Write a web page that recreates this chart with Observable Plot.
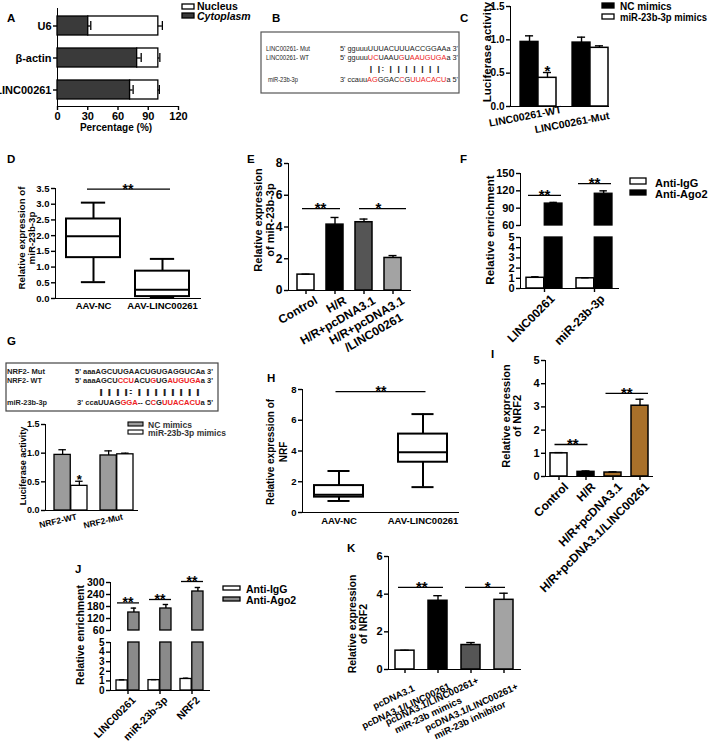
<!DOCTYPE html>
<html><head><meta charset="utf-8">
<script src="https://cdn.jsdelivr.net/npm/d3@7"></script>
<script src="https://cdn.jsdelivr.net/npm/@observablehq/plot@0.6"></script>
<style>
html,body{margin:0;padding:0;background:#fff;}
#page{position:relative;width:709px;height:743px;overflow:hidden;background:#fff;}
#page svg [aria-label*="axis"] line, #page svg [aria-label*="axis"] path{stroke-width:1.4px;}
</style>
</head><body><div id="page"></div>
<script>
// ================= DATA =================
// A
const aCats = ["U6", "β-actin", "LINC00261"];
const aCytoplasm = [30.5, 79, 72];
const aCytoplasmErr = [33, 83, 75];
const aNucleusEnd = [100, 100, 100];
const aNucleusErr = [104, 101.5, 101];
const aTicks = [0, 30, 60, 90, 120];
const aSeries = ["Nucleus", "Cytoplasm"];
// B
const bNames = ["LINC00261- Mut", "LINC00261- WT", "miR-23b-3p"];
const bMut = [["5' gguuuUUUACUUUACCGGAAa 3'", 0]];
const bWT = [["5' gguuu", 0], ["UC", 1], ["UAAU", 0], ["G", 1], ["U", 0], ["AAUGUGA", 1], ["a 3'", 0]];
const bMiR = [["3' ccauu", 0], ["AG", 1], ["GGAC", 0], ["C", 1], ["G", 0], ["UUACACU", 1], ["a 5'", 0]];
const bPairs = "| |:          |    | | | | | |";
// C
const cGroups = ["LINC00261-WT", "LINC00261-Mut"];
const cSeries = ["NC mimics", "miR-23b-3p mimics"];
const cNC = [0.97, 0.96];
const cNCErr = [1.06, 1.04];
const cMimics = [0.43, 0.88];
const cMimicsErr = [0.51, 0.91];
const cTicks = [0, 0.5, 1.0, 1.5];
const cStarGroup = ["LINC00261-WT"], cStarY = [0.55], cStarText = ["*"];
// D
const dGroups = ["AAV-NC", "AAV-LINC00261"];
const dMin = [0.52, 0.03], dQ1 = [1.30, 0.06], dMedian = [1.98, 0.28], dQ3 = [2.53, 0.87], dMax = [3.05, 1.26];
const dTicks = [0, 0.5, 1, 1.5, 2, 2.5, 3, 3.5];
const dSigFrom = ["AAV-NC"], dSigTo = ["AAV-LINC00261"], dSigY = [3.48], dSigText = ["**"];
// E
const eCats = ["Control", "H/R", "H/R+pcDNA3.1", "H/R+pcDNA3.1/LINC00261"];
const eLine1 = ["Control", "H/R", "H/R+pcDNA3.1", "H/R+pcDNA3.1"];
const eLine2 = ["", "", "", "/LINC00261"];
const eValues = [1.0, 4.15, 4.3, 2.05];
const eErr = [1.03, 4.6, 4.5, 2.2];
const eTicks = [0, 2, 4, 6, 8];
const eSigFrom = ["Control", "H/R+pcDNA3.1"], eSigTo = ["H/R", "H/R+pcDNA3.1/LINC00261"], eSigY = [5.16, 5.16], eSigText = ["**", "*"];
// F
const fGroups = ["LINC00261", "miR-23b-3p"];
const fSeries = ["Anti-IgG", "Anti-Ago2"];
const fIgG = [1.05, 1.0], fIgGErr = [1.15, 1.05];
const fAgo2 = [98, 115], fAgo2Err = [100, 120];
const fTopTicks = [60, 90, 120, 150], fBottomTicks = [0, 1, 2, 3, 4, 5];
const fSigY = [112, 132.6], fSigText = ["**", "**"];
// G
const gNames = ["NRF2- Mut", "NRF2- WT", "miR-23b-3p"];
const gMut = [["5' aaaAGCUUGAACUGUGAGGUCAa 3'", 0]];
const gWT = [["5' aaaAGCU", 0], ["CCU", 1], ["ACU", 0], ["G", 1], ["UG", 0], ["AUGUGA", 1], ["a 3'", 0]];
const gMiR = [["3' ccaUUAG", 0], ["GGA", 1], ["-- C", 0], ["C", 1], ["G", 0], ["UUACACU", 1], ["a 5'", 0]];
const gPairs = "|       | | |:         |        | | | | | | |";
const gGroups = ["NRF2-WT", "NRF2-Mut"];
const gSeries = ["NC mimics", "miR-23b-3p mimics"];
const gNC = [0.97, 0.96], gNCErr = [1.06, 1.04];
const gMimics = [0.43, 0.98], gMimicsErr = [0.51, 1.0];
const gTicks = [0, 0.5, 1.0, 1.5];
const gStarGroup = ["NRF2-WT"], gStarY = [0.55], gStarText = ["*"];
// H
const hGroups = ["AAV-NC", "AAV-LINC00261"];
const hMin = [0.75, 1.65], hQ1 = [1.0, 3.27], hMedian = [1.15, 3.92], hQ3 = [1.75, 5.1], hMax = [2.7, 6.4];
const hTicks = [0, 2, 4, 6, 8];
const hSigFrom = ["AAV-NC"], hSigTo = ["AAV-LINC00261"], hSigY = [7.86], hSigText = ["**"];
// I
const iCats = ["Control", "H/R", "H/R+pcDNA3.1", "H/R+pcDNA3.1/LINC00261"];
const iValues = [1.0, 0.2, 0.17, 3.05];
const iErr = [1.03, 0.24, 0.2, 3.33];
const iTicks = [0, 1, 2, 3, 4, 5];
const iSigFrom = ["Control", "H/R+pcDNA3.1"], iSigTo = ["H/R", "H/R+pcDNA3.1/LINC00261"], iSigY = [1.38, 3.58], iSigText = ["**", "**"];
// J
const jGroups = ["LINC00261", "miR-23b-3p", "NRF2"];
const jSeries = ["Anti-IgG", "Anti-Ago2"];
const jIgG = [1.05, 1.08, 1.2], jIgGErr = [1.12, 1.13, 1.28];
const jAgo2 = [150, 170, 255], jAgo2Err = [172, 190, 275];
const jTopTicks = [60, 120, 180, 240, 300], jBottomTicks = [0, 1, 2, 3, 4, 5];
const jSigY = [198, 215, 305], jSigText = ["**", "**", "**"];
// K
const kCats = ["pcDNA3.1", "pcDNA3.1/LINC00261", "pcDNA3.1/LINC00261+ miR-23b mimics", "pcDNA3.1/LINC00261+ miR-23b inhibitor"];
const kLine1 = ["pcDNA3.1", "pcDNA3.1/LINC00261", "pcDNA3.1/LINC00261+", "pcDNA3.1/LINC00261+"];
const kLine2 = ["", "", "miR-23b mimics", "miR-23b inhibitor"];
const kValues = [1.0, 3.65, 1.3, 3.7];
const kErr = [1.02, 3.92, 1.43, 4.05];
const kTicks = [0, 2, 4, 6];
const kSigFrom = ["pcDNA3.1", "pcDNA3.1/LINC00261+ miR-23b mimics"], kSigTo = ["pcDNA3.1/LINC00261", "pcDNA3.1/LINC00261+ miR-23b inhibitor"], kSigY = [4.36, 4.36], kSigText = ["**", "*"];

// ================= STYLE =================
const FONT = '"Liberation Sans", Arial, Helvetica, sans-serif';
const RED = "#ee1c24";
const C_WHITE = "#ffffff", C_BLACK = "#000000", C_DARK = "#555555", C_LIGHT = "#a3a3a3", C_BROWN = "#a8702a", C_MID = "#8a8a8a", C_CYTO = "#3a3a3a", C_G = "#9c9c9c";
const eColors = [C_WHITE, C_BLACK, C_DARK, C_LIGHT];
const iColors = [C_WHITE, C_BLACK, C_BROWN, C_BROWN];
const kColors = [C_WHITE, C_BLACK, C_DARK, C_LIGHT];
// per-label offsets of the rotated K labels (px)
const kLabelDx = [7.5, 10, 5.5, 12], kLabelDy = [15, 13, 7, 13];

const page = document.getElementById("page");
const meas = document.createElement("canvas").getContext("2d");
function textW(s, fs) { meas.font = `bold ${fs}px "Liberation Sans"`; return meas.measureText(s).width; }
function band(domain, r0, r1, pi, po, align = 0.5) {
  return d3.scaleBand().domain(domain).range([r0, r1]).paddingInner(pi).paddingOuter(po).align(align);
}
function plotAt(box, opt) {
  const {left, top, width, height, ax, ar, yt, yb, fs = 11} = box;
  const svg = Plot.plot(Object.assign({
    width, height,
    marginLeft: ax - left, marginRight: left + width - ar,
    marginTop: yt - top, marginBottom: top + height - yb,
    style: {background: "transparent", overflow: "visible", fontFamily: FONT, fontWeight: "bold", fontSize: fs + "px", color: "#000", maxWidth: "none"}
  }, opt));
  svg.style.position = "absolute"; svg.style.left = left + "px"; svg.style.top = top + "px";
  page.appendChild(svg);
  return svg;
}
function yAxis(domain, ticks, fmt) {
  return {domain, ticks, tickFormat: fmt || (d => d), tickSize: 4, tickPadding: 2, line: true, label: null};
}
function errBars(data, {x, v, e, bw, dx = 0, cap = 8, sw = 1.4}) {
  return [
    Plot.ruleX(data, {x, y1: v, y2: e, dx, strokeWidth: sw}),
    Plot.tickY(data, {x, y: e, insetLeft: bw / 2 + dx - cap / 2, insetRight: bw / 2 - dx - cap / 2, strokeWidth: sw})
  ];
}
function sigMarks(from, to, ys, texts, {step, insets, fs = 15, dy = 4.5, sw = 1.3}) {
  const marks = [];
  from.forEach((f, i) => {
    const d = {x1: f, x2: to[i], y: ys[i], t: texts[i]};
    const [il, ir] = insets[i];
    marks.push(Plot.ruleY([d], {x1: "x1", x2: "x2", y: "y", insetLeft: il, insetRight: ir, strokeWidth: sw}));
    marks.push(Plot.text([d], {x: "x1", y: "y", text: "t", dx: f === to[i] ? 0 : step / 2, dy, lineAnchor: "bottom", fontSize: fs}));
  });
  return marks;
}
// rotated category labels; line 2 (optional) is placed under line 1
function xLabels(cats, line1, line2, {angle, fs, dx, dy, lh = fs * 1.15, align = "middle", shift = 0}) {
  const a = angle * Math.PI / 180;
  const u = [Math.cos(a), -Math.sin(a)], n = [Math.sin(a), Math.cos(a)];
  const marks = [];
  cats.forEach((c, i) => {
    const ddx = Array.isArray(dx) ? dx[i] : dx, ddy = Array.isArray(dy) ? dy[i] : dy;
    marks.push(Plot.text([c], {x: d => d, frameAnchor: "bottom", text: () => line1[i], rotate: -angle, textAnchor: "end", lineAnchor: "top", dx: ddx, dy: ddy, fontSize: fs}));
    if (line2 && line2[i]) {
      const L1 = textW(line1[i], fs);
      const k = (align === "middle" ? L1 / 2 : L1) - shift;
      marks.push(Plot.text([c], {x: d => d, frameAnchor: "bottom", text: () => line2[i], rotate: -angle, textAnchor: align, lineAnchor: "top",
        dx: ddx - k * u[0] + lh * n[0], dy: ddy - k * u[1] + lh * n[1], fontSize: fs}));
    }
  });
  return marks;
}
function boxMarks(data, bw, cap, sw = 2) {
  const ins = (bw - cap) / 2;
  return [
    Plot.ruleX(data, {x: "g", y1: "min", y2: "q1", strokeWidth: sw}),
    Plot.ruleX(data, {x: "g", y1: "q3", y2: "max", strokeWidth: sw}),
    Plot.tickY(data, {x: "g", y: "min", insetLeft: ins, insetRight: ins, strokeWidth: sw}),
    Plot.tickY(data, {x: "g", y: "max", insetLeft: ins, insetRight: ins, strokeWidth: sw}),
    Plot.barY(data, {x: "g", y1: "q1", y2: "q3", fill: "#fff", stroke: "#000", strokeWidth: sw}),
    Plot.tickY(data, {x: "g", y: "med", strokeWidth: sw})
  ];
}
const emptyFmt = () => "";

// ---------- A ----------
{
  const data = aCats.map((c, i) => ({c, cyto: aCytoplasm[i], cytoErr: aCytoplasmErr[i], nuc: aNucleusEnd[i], nucErr: aNucleusErr[i]}));
  plotAt({left: 0, top: 0, width: 200, height: 135, ax: 57, ar: 178, yt: 8, yb: 106, fs: 11}, {
    x: {domain: [0, 120], ticks: aTicks, tickSize: 4, tickPadding: 2, line: true, label: null},
    y: {domain: aCats, paddingInner: 0.42, paddingOuter: 0.24, tickSize: 4, tickPadding: 2, line: true, label: null},
    marks: [
      Plot.barX(data, {y: "c", x1: 0, x2: "cyto", fill: C_CYTO, stroke: "#000", strokeWidth: 1.3}),
      Plot.barX(data, {y: "c", x1: "cyto", x2: "nuc", fill: "#fff", stroke: "#000", strokeWidth: 1.3}),
      Plot.ruleY(data, {y: "c", x1: "cyto", x2: "cytoErr", strokeWidth: 1.3}),
      Plot.tickX(data, {y: "c", x: "cytoErr", insetTop: 5, insetBottom: 5, strokeWidth: 1.3}),
      Plot.ruleY(data, {y: "c", x1: "nuc", x2: "nucErr", strokeWidth: 1.3}),
      Plot.tickX(data, {y: "c", x: "nucErr", insetTop: 5, insetBottom: 5, strokeWidth: 1.3})
    ]
  });
}
// ---------- C ----------
{
  const B = band(cGroups, 510, 608, 0.31, 0.097, 1), bw = B.bandwidth();
  const data = cGroups.map((g, i) => ({g, nc: cNC[i], ncErr: cNCErr[i], mim: cMimics[i], mimErr: cMimicsErr[i]}));
  plotAt({left: 470, top: 0, width: 150, height: 140, ax: 510, ar: 608, yt: 6, yb: 106, fs: 10}, {
    x: {domain: cGroups, paddingInner: 0.31, paddingOuter: 0.097, align: 1, tickSize: 0, tickFormat: emptyFmt, line: true, label: null},
    y: yAxis([0, 1.5], cTicks, d3.format(".1f")),
    marks: [
      Plot.barY(data, {x: "g", y: "nc", fill: C_BLACK, stroke: "#000", strokeWidth: 1.3, insetRight: bw / 2}),
      Plot.barY(data, {x: "g", y: "mim", fill: C_WHITE, stroke: "#000", strokeWidth: 1.5, insetLeft: bw / 2}),
      ...errBars(data, {x: "g", v: "nc", e: "ncErr", bw, dx: -bw / 4, cap: 8}),
      ...errBars(data, {x: "g", v: "mim", e: "mimErr", bw, dx: bw / 4, cap: 8}),
      Plot.text(cStarGroup, {x: d => d, y: (d, i) => cStarY[i], text: (d, i) => cStarText[i], dx: bw / 4, dy: 6, lineAnchor: "bottom", fontSize: 15}),
      ...xLabels(cGroups, cGroups, null, {angle: 11, fs: 10.5, dx: [22, 18], dy: [-1, 5]})
    ]
  });
}
// ---------- D ----------
{
  const B = band(dGroups, 55, 200, 0.217, 0.159), bw = B.bandwidth();
  const data = dGroups.map((g, i) => ({g, min: dMin[i], q1: dQ1[i], med: dMedian[i], q3: dQ3[i], max: dMax[i]}));
  plotAt({left: 0, top: 170, width: 210, height: 150, ax: 55, ar: 200, yt: 188, yb: 298, fs: 9.5}, {
    x: {domain: dGroups, paddingInner: 0.217, paddingOuter: 0.159, tickSize: 0, tickPadding: 4, line: true, label: null},
    y: yAxis([0, 3.5], dTicks, d3.format(".1f")),
    marks: [
      ...boxMarks(data, bw, bw * 0.45),
      ...sigMarks(dSigFrom, dSigTo, dSigY, dSigText, {step: B.step(), insets: [[21, 19]], fs: 14})
    ]
  });
}
// ---------- E ----------
{
  const B = band(eCats, 288, 410, 0.414, 0.31), bw = B.bandwidth();
  const data = eCats.map((c, i) => ({c, v: eValues[i], e: eErr[i], col: eColors[i]}));
  plotAt({left: 235, top: 150, width: 185, height: 150, ax: 288, ar: 410, yt: 163, yb: 290, fs: 12}, {
    x: {domain: eCats, paddingInner: 0.414, paddingOuter: 0.31, tickSize: 4, tickFormat: emptyFmt, line: true, label: null},
    y: yAxis([0, 8], eTicks),
    marks: [
      Plot.barY(data, {x: "c", y: "v", fill: "col", stroke: "#000", strokeWidth: 1.5}),
      ...errBars(data, {x: "c", v: "v", e: "e", bw, cap: 8}),
      ...sigMarks(eSigFrom, eSigTo, eSigY, eSigText, {step: B.step(), insets: [[5, 3], [4, -5]], fs: 15}),
      ...xLabels(eCats, eLine1, eLine2, {angle: 30, fs: 12, dx: 8, dy: 5})
    ]
  });
}
// ---------- F ----------
{
  const B = band(fGroups, 520, 618, 0.284, 0.103), bw = B.bandwidth();
  const data = fGroups.map((g, i) => ({g, igg: fIgG[i], iggErr: fIgGErr[i], ago: fAgo2[i], agoErr: fAgo2Err[i], sy: fSigY[i], st: fSigText[i]}));
  const xs = {domain: fGroups, paddingInner: 0.284, paddingOuter: 0.103, label: null};
  plotAt({left: 470, top: 165, width: 160, height: 65, ax: 520, ar: 618, yt: 173, yb: 225, fs: 11}, {
    x: {...xs, axis: null},
    y: yAxis([60, 150], fTopTicks),
    marks: [
      Plot.barY(data, {x: "g", y1: 60, y2: "ago", fill: C_BLACK, stroke: "#000", strokeWidth: 1.3, insetLeft: bw / 2}),
      ...errBars(data, {x: "g", v: "ago", e: "agoErr", bw, dx: bw / 4, cap: 8}),
      Plot.ruleY(data, {x1: "g", x2: "g", y: "sy", insetLeft: 2, insetRight: 1, strokeWidth: 1.3}),
      Plot.text(data, {x: "g", y: "sy", text: "st", dy: 4.5, lineAnchor: "bottom", fontSize: 15})
    ]
  });
  plotAt({left: 470, top: 230, width: 160, height: 70, ax: 520, ar: 618, yt: 237, yb: 288, fs: 11}, {
    x: {...xs, tickSize: 4, tickFormat: emptyFmt, line: true},
    y: yAxis([0, 5], fBottomTicks),
    marks: [
      Plot.barY(data, {x: "g", y: "igg", fill: C_WHITE, stroke: "#000", strokeWidth: 1.5, insetRight: bw / 2}),
      Plot.barY(data, {x: "g", y: d => Math.min(d.ago, 5), fill: C_BLACK, stroke: "#000", strokeWidth: 1.3, insetLeft: bw / 2}),
      ...errBars(data, {x: "g", v: "igg", e: "iggErr", bw, dx: -bw / 4, cap: 8}),
      ...xLabels(fGroups, fGroups, null, {angle: 45, fs: 12, dx: 5, dy: 5})
    ]
  });
}
// ---------- G ----------
{
  const B = band(gGroups, 45, 137, 0.28, 0.129, 0.667), bw = B.bandwidth();
  const data = gGroups.map((g, i) => ({g, nc: gNC[i], ncErr: gNCErr[i], mim: gMimics[i], mimErr: gMimicsErr[i]}));
  plotAt({left: 0, top: 415, width: 145, height: 100, ax: 45, ar: 137, yt: 424, yb: 510, fs: 9}, {
    x: {domain: gGroups, paddingInner: 0.28, paddingOuter: 0.129, align: 0.667, tickSize: 0, tickFormat: emptyFmt, line: true, label: null},
    y: yAxis([0, 1.5], gTicks, d3.format(".1f")),
    marks: [
      Plot.barY(data, {x: "g", y: "nc", fill: C_G, stroke: "#000", strokeWidth: 1.3, insetRight: bw / 2}),
      Plot.barY(data, {x: "g", y: "mim", fill: C_WHITE, stroke: "#000", strokeWidth: 1.3, insetLeft: bw / 2}),
      ...errBars(data, {x: "g", v: "nc", e: "ncErr", bw, dx: -bw / 4, cap: 8, sw: 1.3}),
      ...errBars(data, {x: "g", v: "mim", e: "mimErr", bw, dx: bw / 4, cap: 8, sw: 1.3}),
      Plot.text(gStarGroup, {x: d => d, y: (d, i) => gStarY[i], text: (d, i) => gStarText[i], dx: bw / 4, dy: 5, lineAnchor: "bottom", fontSize: 13}),
      ...xLabels(gGroups, gGroups, null, {angle: 13, fs: 8.5, dx: 5, dy: 3})
    ]
  });
}
// ---------- H ----------
{
  const B = band(hGroups, 302, 458, 0.417, 0.137), bw = B.bandwidth();
  const data = hGroups.map((g, i) => ({g, min: hMin[i], q1: hQ1[i], med: hMedian[i], q3: hQ3[i], max: hMax[i]}));
  plotAt({left: 245, top: 380, width: 215, height: 135, ax: 302, ar: 458, yt: 389, yb: 512, fs: 9.5}, {
    x: {domain: hGroups, paddingInner: 0.417, paddingOuter: 0.137, tickSize: 0, tickPadding: 5, line: true, label: null},
    y: yAxis([0, 8], hTicks),
    marks: [
      ...boxMarks(data, bw, bw * 0.45),
      ...sigMarks(hSigFrom, hSigTo, hSigY, hSigText, {step: B.step(), insets: [[21.5, 21.5]], fs: 14})
    ]
  });
}
// ---------- I ----------
{
  const B = band(iCats, 545, 652, 0.386, 0.125), bw = B.bandwidth();
  const data = iCats.map((c, i) => ({c, v: iValues[i], e: iErr[i], col: iColors[i]}));
  plotAt({left: 470, top: 350, width: 190, height: 130, ax: 545, ar: 652, yt: 360, yb: 476, fs: 11}, {
    x: {domain: iCats, paddingInner: 0.386, paddingOuter: 0.125, tickSize: 4, tickFormat: emptyFmt, line: true, label: null},
    y: yAxis([0, 5], iTicks),
    marks: [
      Plot.barY(data, {x: "c", y: "v", fill: "col", stroke: "#000", strokeWidth: 1.5}),
      ...errBars(data, {x: "c", v: "v", e: "e", bw, cap: 8}),
      ...sigMarks(iSigFrom, iSigTo, iSigY, iSigText, {step: B.step(), insets: [[4.5, 6.5], [1.5, 0]], fs: 15}),
      ...xLabels(iCats, iCats, null, {angle: 45, fs: 12, dx: 4, dy: 5})
    ]
  });
}
// ---------- J ----------
{
  const B = band(jGroups, 110, 209, 0.27, 0.167), bw = B.bandwidth();
  const data = jGroups.map((g, i) => ({g, igg: jIgG[i], iggErr: jIgGErr[i], ago: jAgo2[i], agoErr: jAgo2Err[i], sy: jSigY[i], st: jSigText[i]}));
  const xs = {domain: jGroups, paddingInner: 0.27, paddingOuter: 0.167, label: null};
  plotAt({left: 60, top: 575, width: 155, height: 60, ax: 110, ar: 209, yt: 582, yb: 630, fs: 10.5}, {
    x: {...xs, axis: null},
    y: yAxis([60, 300], jTopTicks),
    marks: [
      Plot.barY(data, {x: "g", y1: 60, y2: "ago", fill: C_MID, stroke: "#000", strokeWidth: 1.3, insetLeft: bw / 2}),
      ...errBars(data, {x: "g", v: "ago", e: "agoErr", bw, dx: bw / 4, cap: 6}),
      Plot.ruleY(data, {x1: "g", x2: "g", y: "sy", insetLeft: 1, insetRight: 0, strokeWidth: 1.3}),
      Plot.text(data, {x: "g", y: "sy", text: "st", dy: 4.5, lineAnchor: "bottom", fontSize: 14})
    ]
  });
  plotAt({left: 60, top: 636, width: 155, height: 60, ax: 110, ar: 209, yt: 642, yb: 690, fs: 10}, {
    x: {...xs, tickSize: 4, tickFormat: emptyFmt, line: true},
    y: yAxis([0, 5], jBottomTicks),
    marks: [
      Plot.barY(data, {x: "g", y: "igg", fill: C_WHITE, stroke: "#000", strokeWidth: 1.3, insetRight: bw / 2}),
      Plot.barY(data, {x: "g", y: d => Math.min(d.ago, 5), fill: C_MID, stroke: "#000", strokeWidth: 1.3, insetLeft: bw / 2}),
      ...errBars(data, {x: "g", v: "igg", e: "iggErr", bw, dx: -bw / 4, cap: 6}),
      ...xLabels(jGroups, jGroups, null, {angle: 45, fs: 10.5, dx: 3, dy: 5})
    ]
  });
}
// ---------- K ----------
{
  const B = band(kCats, 388, 520, 0.418, 0.179), bw = B.bandwidth();
  const data = kCats.map((c, i) => ({c, v: kValues[i], e: kErr[i], col: kColors[i]}));
  plotAt({left: 340, top: 545, width: 185, height: 130, ax: 388, ar: 520, yt: 556, yb: 669, fs: 11}, {
    x: {domain: kCats, paddingInner: 0.418, paddingOuter: 0.179, tickSize: 4, tickFormat: emptyFmt, line: true, label: null},
    y: yAxis([0, 6], kTicks),
    marks: [
      Plot.barY(data, {x: "c", y: "v", fill: "col", stroke: "#000", strokeWidth: 1.5}),
      ...errBars(data, {x: "c", v: "v", e: "e", bw, cap: 9}),
      ...sigMarks(kSigFrom, kSigTo, kSigY, kSigText, {step: B.step(), insets: [[3, 4], [4, 8]], fs: 15}),
      ...xLabels(kCats, kLine1, kLine2, {angle: 25, fs: 9.5, dx: kLabelDx, dy: kLabelDy, lh: 11, align: "start", shift: 5})
    ]
  });
}

// ================= OVERLAY TEXT (letters, titles, legends, sequence boxes) =================
const ov = d3.select(page).append("svg").attr("width", 709).attr("height", 743)
  .style("position", "absolute").style("left", "0px").style("top", "0px").style("overflow", "visible")
  .style("font-family", FONT).style("font-weight", "bold");
function T(x, y, s, size, o = {}) {
  const t = ov.append("text").attr("x", x).attr("y", y).attr("font-size", size).attr("fill", o.fill || "#000").text(s);
  if (o.anchor) t.attr("text-anchor", o.anchor);
  if (o.rot) t.attr("transform", `rotate(${o.rot},${x},${y})`);
  if (o.italic) t.attr("font-style", "italic");
  if (o.weight) t.attr("font-weight", o.weight);
  if (o.len) t.attr("textLength", o.len).attr("lengthAdjust", "spacingAndGlyphs");
  return t;
}
function seq(x, y, parts, size, len, weight) {
  const t = ov.append("text").attr("x", x).attr("y", y).attr("font-size", size).attr("font-weight", weight)
    .attr("textLength", len).attr("lengthAdjust", "spacingAndGlyphs");
  parts.forEach(([s, red]) => t.append("tspan").attr("fill", red ? RED : "#222").text(s));
}
function box(x, y, w, h, fill, sw = 1.3) {
  ov.append("rect").attr("x", x).attr("y", y).attr("width", w).attr("height", h).attr("fill", fill).attr("stroke", "#000").attr("stroke-width", sw);
}
function yLabel(x, cy, s, size) { T(x, cy, s, size, {anchor: "middle", rot: -90}); }

// panel letters
[["A", 7, 22], ["B", 272, 22], ["C", 460, 22], ["D", 7, 163], ["E", 247, 163], ["F", 460, 163],
 ["G", 7, 345], ["H", 267, 382], ["I", 491, 358], ["J", 75, 573], ["K", 347, 552]].forEach(([s, x, y]) => T(x, y, s, 11.5));

// A
T(116, 131, "Percentage (%)", 10, {anchor: "middle"});
box(182, 4, 12, 5, C_WHITE); box(182, 13, 12, 5, C_CYTO);
T(197, 10, aSeries[0], 10.5); T(197, 19.5, aSeries[1], 10.5, {italic: true});
// B
ov.append("rect").attr("x", 261).attr("y", 32).attr("width", 198).attr("height", 61).attr("fill", "none").attr("stroke", "#555").attr("stroke-width", 1.2);
T(266, 51, bNames[0], 7, {weight: "normal", len: 44, fill: "#222"});
T(266, 60, bNames[1], 7, {weight: "normal", len: 43, fill: "#222"});
T(268, 81.5, bNames[2], 7, {weight: "normal", len: 30, fill: "#222"});
seq(340, 51, bMut, 7.5, 118, "normal");
seq(340, 60, bWT, 7.5, 118, "normal");
seq(340, 81.5, bMiR, 7.5, 118, "normal");
T(369, 71, bPairs, 8, {weight: "normal", len: 71, fill: "#222"});
// C
yLabel(491, 52, "Luciferase activity", 11.5);
box(602, 3, 12, 5, C_BLACK); box(602, 14, 12, 5, C_WHITE);
T(620, 9.5, cSeries[0], 10); T(620, 20.5, cSeries[1], 10, {len: 87});
// D
yLabel(25, 238, "Relative expression of", 9.7); yLabel(35, 238, "miR-23b-3p", 9.7);
// E
yLabel(262, 220, "Relative expression", 11); yLabel(274, 220, "of miR-23b-3p", 11);
// F
yLabel(494, 230, "Relative enrichment", 11.5);
box(630, 178, 16, 6, C_WHITE); box(630, 190, 16, 5, C_BLACK);
T(655, 186.5, fSeries[0], 11); T(655, 197.5, fSeries[1], 11);
// G
ov.append("rect").attr("x", 6).attr("y", 363).attr("width", 212).attr("height", 48).attr("fill", "none").attr("stroke", "#444").attr("stroke-width", 1.2);
T(7, 374, gNames[0], 8, {len: 38, fill: "#222"});
T(7, 383, gNames[1], 8, {len: 35, fill: "#222"});
T(7, 404.5, gNames[2], 8, {len: 40, fill: "#222"});
seq(75, 374, gMut, 8, 138, "bold");
seq(75, 383, gWT, 8, 138, "bold");
seq(77, 404.5, gMiR, 8, 136, "bold");
T(99, 394, gPairs, 8, {len: 101, fill: "#222"});
yLabel(25.5, 466, "Luciferase activity", 9);
box(128, 422, 15, 4, C_G, 1.1); box(128, 430, 15, 4, C_WHITE, 1.1);
T(148, 427.5, gSeries[0], 8.5, {fill: "#333"}); T(148, 436, gSeries[1], 8.5, {fill: "#333"});
// H
yLabel(274, 452, "Relative expression of", 10); yLabel(287, 452, "NRF", 10);
// I
yLabel(510, 416, "Relative expression", 11); yLabel(521, 416, "of NRF2", 11);
// J
yLabel(84, 635, "Relative enrichment", 10.5);
box(223, 586, 17, 4, C_WHITE); box(223, 597, 17, 4, C_MID);
T(246, 592.5, jSeries[0], 10.5); T(246, 603.5, jSeries[1], 10.5);
// K
yLabel(356, 624, "Relative expression", 10.5); yLabel(367, 624, "of NRF2", 10.5);
</script>
</body></html>
